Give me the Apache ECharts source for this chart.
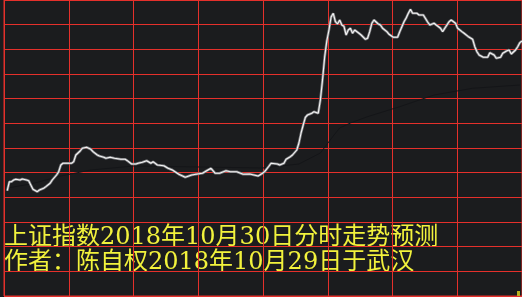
<!DOCTYPE html>
<html><head><meta charset="utf-8">
<script src="https://cdn.jsdelivr.net/npm/echarts@6/dist/echarts.min.js"></script>
<style>html,body{margin:0;padding:0;background:#1b1c1e;}#c{width:522px;height:297px;}</style>
</head><body><div id="c"></div>
<script>
// trading minute index (0 = 9:30) and index price
const minutes = [0,1,2,3,4,6,7,9,10,11,12,14,15,17,18,20,21,23,24,25,
26,28,30,31,32,34,35,37,39,40,42,43,45,46,48,50,53,55,56,58,
60,61,63,65,67,68,70,73,75,77,80,83,86,88,91,93,95,97,99,102,
104,107,110,113,117,119,120,122,123,126,127,129,130,132,133,135,136,137,138,139,
140,142,143,145,146,147,148,149,150,151,152,153,154,155,156,157,158,159,160,161,
162,164,165,167,168,169,170,171,173,174,175,177,178,180,182,183,184,185,186,187,
188,189,191,192,194,196,197,199,200,202,203,204,206,207,209,210,212,213,215,217,
218,219,220,222,224,225,227,228,230,231,233,234,235,237,238,239,240];
const prices = [2534.33,2536.58,2536.58,2537.00,2537.18,2537.00,2537.25,2537.00,2536.83,2535.75,2534.68,2534.08,2534.50,2534.93,2535.33,2536.18,2537.00,2538.25,2539.08,2540.75,
2541.18,2541.18,2541.18,2541.58,2543.25,2544.25,2544.93,2545.18,2544.68,2544.08,2543.25,2543.00,2542.68,2542.43,2542.68,2542.43,2542.18,2542.18,2541.83,2541.00,
2541.00,2541.18,2541.43,2541.83,2541.18,2541.58,2540.75,2540.58,2539.93,2539.50,2538.43,2537.68,2538.25,2538.43,2538.68,2539.33,2539.93,2538.68,2538.68,2539.33,
2539.08,2539.08,2538.43,2538.50,2538.00,2538.68,2539.08,2540.43,2541.18,2541.00,2540.75,2541.18,2542.18,2542.83,2543.25,2544.50,2546.25,2548.75,2550.75,2552.68,
2553.25,2553.68,2554.08,2553.68,2557.00,2562.00,2567.75,2571.75,2574.50,2577.75,2578.68,2576.58,2576.00,2577.00,2575.75,2575.43,2573.25,2574.50,2574.93,2573.68,
2574.50,2573.68,2573.25,2572.18,2572.43,2574.08,2576.18,2577.00,2576.00,2575.75,2574.93,2574.08,2573.43,2572.68,2572.68,2574.08,2575.33,2576.58,2577.50,2578.68,
2579.68,2578.68,2578.68,2578.25,2578.25,2576.50,2575.75,2576.18,2575.75,2574.93,2574.08,2574.93,2576.58,2577.00,2576.18,2574.93,2574.08,2573.68,2572.83,2572.18,
2570.33,2569.08,2568.25,2567.68,2567.68,2568.83,2568.25,2567.43,2567.68,2568.68,2569.33,2569.50,2568.50,2569.50,2570.33,2571.33,2571.75];
// average price line
const avgMinutes = [0,11,25,39,59,90,119,136,146,152,155,160,168,183,199,217,239];
const avgPrices = [2535.0,2536.0,2538.0,2539.5,2540.5,2540.25,2540.0,2541.0,2543.75,2548.0,2550.0,2551.25,2552.83,2555.33,2558.25,2559.93,2560.75];
// grid divisions
const vDivisions = 8;
const hDivisions = 12;
const titleLine1 = '上证指数2018年10月30日分时走势预测';
const titleLine2 = '作者：陈自权2018年10月29日于武汉';

const priceData = minutes.map((m, i) => [m, prices[i]]);
const avgData = avgMinutes.map((m, i) => [m, avgPrices[i]]);
const red = '#e5302b';
const chart = echarts.init(document.getElementById('c'), null, {renderer: 'canvas'});
const hiddenAxisParts = {axisLine: {show: false}, axisTick: {show: false}, axisLabel: {show: false}};
chart.setOption({
  backgroundColor: '#1b1c1e',
  animation: false,
  grid: {left: 4, right: 0, top: 0, height: 296, show: true, borderColor: red, borderWidth: 1, backgroundColor: 'transparent'},
  xAxis: [
    Object.assign({type: 'value', min: 0, max: vDivisions, interval: 1,
      splitLine: {show: true, lineStyle: {color: red, width: 1}}}, hiddenAxisParts),
    {type: 'value', min: -1.5, max: 240, show: false}
  ],
  yAxis: [
    Object.assign({type: 'value', min: 0, max: hDivisions, interval: 1,
      splitLine: {show: true, lineStyle: {color: red, width: 1}}}, hiddenAxisParts),
    {type: 'value', min: 2508, max: 2582, show: false}
  ],
  series: [
    {type: 'line', xAxisIndex: 1, yAxisIndex: 1, data: avgData, showSymbol: false, silent: true,
      lineStyle: {color: '#141518', width: 1}},
    {type: 'line', xAxisIndex: 1, yAxisIndex: 1, data: priceData, showSymbol: false, silent: true,
      lineStyle: {color: '#7c7d80', width: 2.6}},
    {type: 'line', xAxisIndex: 1, yAxisIndex: 1, data: priceData, showSymbol: false, silent: true,
      lineStyle: {color: '#f4f4f4', width: 1.1}}
  ],
  graphic: [
    {type: 'text', left: 4, top: 226, style: {text: titleLine1, fill: '#f2f23c',
      font: '24px "DejaVu Serif", "Noto Sans CJK SC"'}},
    {type: 'text', left: 4, top: 251, style: {text: titleLine2, fill: '#f2f23c',
      font: '24px "DejaVu Serif", "Noto Sans CJK SC"'}},
    {type: 'rect', right: 2, bottom: 1, shape: {width: 3, height: 5}, style: {fill: '#b8b020'}}
  ]
});
</script></body></html>
